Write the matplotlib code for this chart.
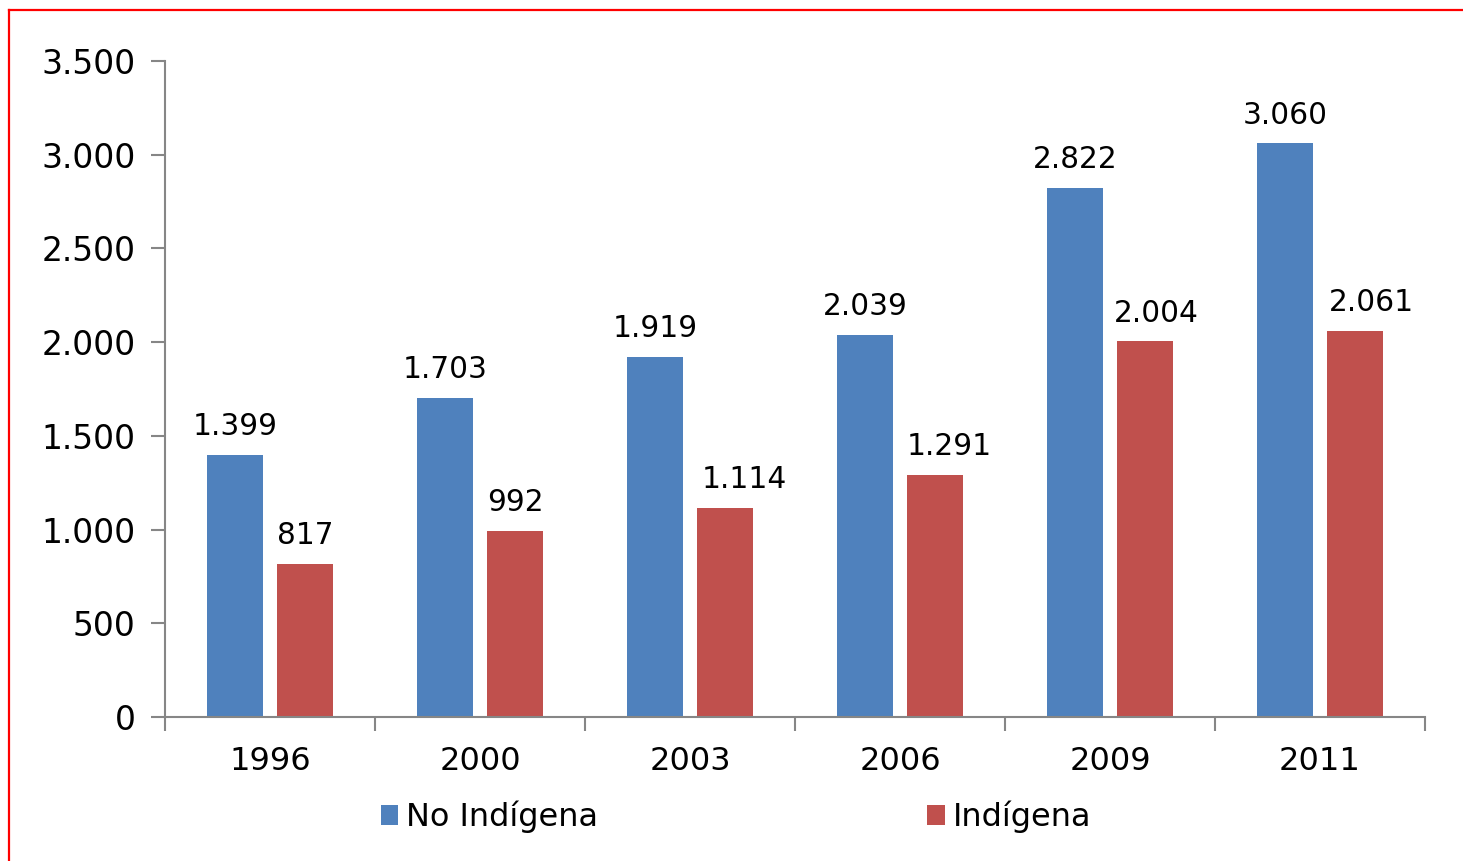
import matplotlib.pyplot as plt
import numpy as np
from matplotlib.lines import Line2D
from matplotlib.ticker import FuncFormatter

years = ["1996", "2000", "2003", "2006", "2009", "2011"]
no_indigena = [1399, 1703, 1919, 2039, 2822, 3060]
indigena = [817, 992, 1114, 1291, 2004, 2061]

BLUE = "#4F81BD"
RED = "#C0504D"
AXIS = "#868686"

plt.rcParams['font.family'] = ['DejaVu Sans']

def miles(v, pos=None):
    return f"{int(v):,}".replace(",", ".")

fig = plt.figure(figsize=(14.63, 8.61), dpi=100)
ax = fig.add_axes([165/1463, 1-717/861, 1260/1463, 656/861])

x = np.arange(len(years))
w = 0.267
off = 0.167
b1 = ax.bar(x - off, no_indigena, w, color=BLUE, label="No Indígena", zorder=2)
b2 = ax.bar(x + off, indigena, w, color=RED, label="Indígena", zorder=2)

for rect, v in zip(b1, no_indigena):
    ax.annotate(miles(v), (rect.get_x() + rect.get_width()/2, v),
                xytext=(0, 10), textcoords="offset points",
                ha="center", va="bottom", fontsize=21.3)
# excel nudged some of the red labels sideways
nudge = [0, 0, 14, 10, 8, 12]
for rect, v, dx in zip(b2, indigena, nudge):
    ax.annotate(miles(v), (rect.get_x() + rect.get_width()/2, v),
                xytext=(dx, 10), textcoords="offset points",
                ha="center", va="bottom", fontsize=21.3)

ax.set_xlim(-0.5, len(years) - 0.5)
ax.set_ylim(0, 3500)
ax.set_yticks(np.arange(0, 3501, 500))
ax.yaxis.set_major_formatter(FuncFormatter(miles))
ax.set_xticks(x)
ax.set_xticklabels(years)
ax.set_xticks(np.arange(-0.5, len(years)), minor=True)
ax.tick_params(axis="x", which="major", length=0, labelsize=23, pad=21)
ax.tick_params(axis="x", which="minor", length=10, color=AXIS, width=1.5)
ax.tick_params(axis="y", length=10, color=AXIS, width=1.5, labelsize=23.8, pad=11)

for s in ["top", "right"]:
    ax.spines[s].set_visible(False)
for s in ["left", "bottom"]:
    ax.spines[s].set_color(AXIS)
    ax.spines[s].set_linewidth(1.5)

fig.legend(handles=[b1, b2], loc="center", bbox_to_anchor=(736/1463, 1-817/861),
           ncol=2, frameon=False, fontsize=23, handlelength=0.55, handleheight=0.55,
           handletextpad=0.25, columnspacing=10.3)

# red frame of the original slide
fig.add_artist(Line2D([9/1463, 1], [1-10/861, 1-10/861], color="red", lw=1.6))
fig.add_artist(Line2D([9/1463, 9/1463], [0, 1-10/861], color="red", lw=1.6))

fig.savefig("out.png", dpi=100)
